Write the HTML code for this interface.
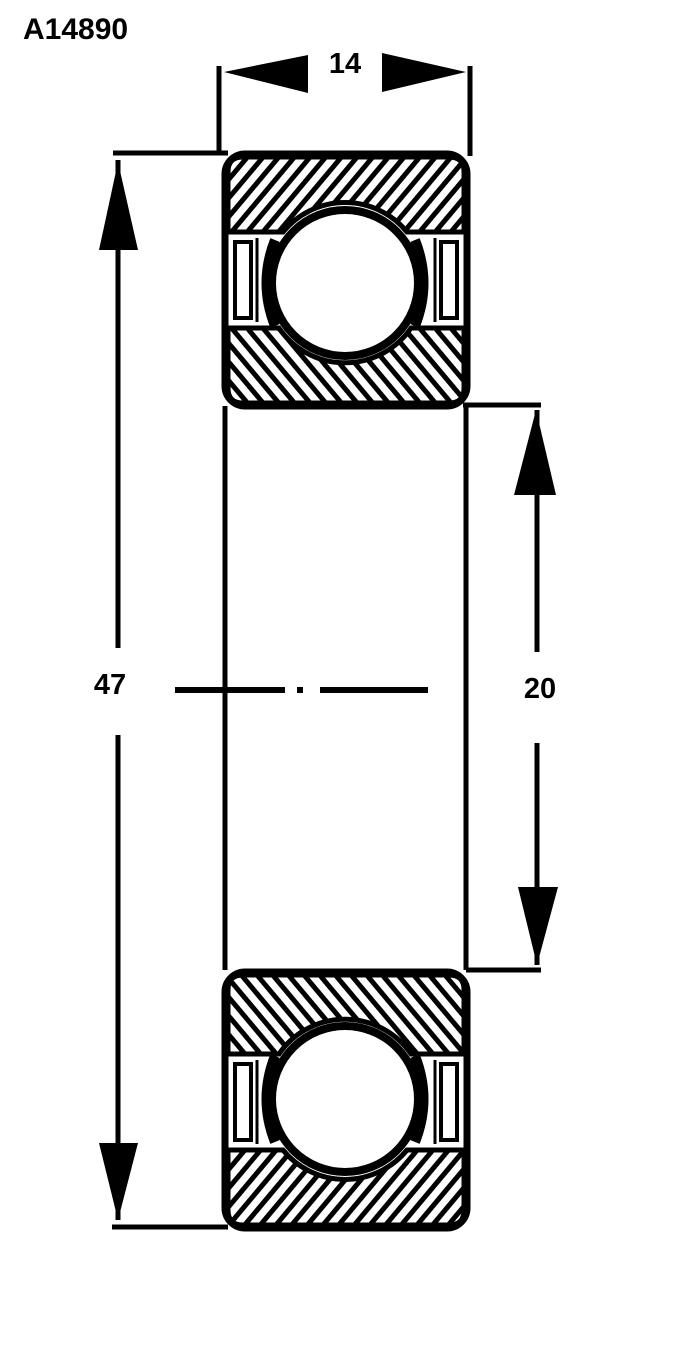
<!DOCTYPE html>
<html><head><meta charset="utf-8"><style>
html,body{margin:0;padding:0;background:#fff;}
svg{display:block;}
text{font-family:"Liberation Sans",Arial,sans-serif;font-weight:bold;fill:#000;}
</style></head><body>
<svg width="700" height="1360" viewBox="0 0 700 1360" xmlns="http://www.w3.org/2000/svg">
<defs>
<pattern id="hA" patternUnits="userSpaceOnUse" width="12" height="12" patternTransform="rotate(40)">
<rect width="12" height="12" fill="#fff"/><rect x="0" y="0" width="5" height="12" fill="#000"/></pattern>
<pattern id="hB" patternUnits="userSpaceOnUse" width="12" height="12" patternTransform="rotate(-40)">
<rect width="12" height="12" fill="#fff"/><rect x="0" y="0" width="5" height="12" fill="#000"/></pattern>
<g id="cage">
  <rect x="235" y="242" width="16" height="76" fill="#fff" stroke="#000" stroke-width="4"/>
  <line x1="257" y1="238" x2="257" y2="322" stroke="#000" stroke-width="3"/>
  <path d="M275 240 Q258 283 275 326" fill="none" stroke="#000" stroke-width="10"/>
  <rect x="441" y="242" width="16" height="76" fill="#fff" stroke="#000" stroke-width="4"/>
  <line x1="435" y1="238" x2="435" y2="322" stroke="#000" stroke-width="3"/>
  <path d="M415 240 Q432 283 415 326" fill="none" stroke="#000" stroke-width="10"/>
  <circle cx="345" cy="283" r="73" fill="#fff" stroke="#000" stroke-width="8"/>
</g>
</defs>

<text x="23" y="39" font-size="30">A14890</text>

<line x1="219" y1="66" x2="219" y2="154" stroke="#000" stroke-width="5"/>
<line x1="470" y1="66" x2="470" y2="156" stroke="#000" stroke-width="5"/>
<polygon points="224,72 308,55 308,93" fill="#000"/>
<polygon points="466,72 382,53 382,92" fill="#000"/>
<text x="345" y="73" font-size="29" text-anchor="middle">14</text>

<g>
  <rect x="225" y="154" width="242" height="252" rx="20" fill="#fff" stroke="#000" stroke-width="6"/>
  <path d="M228 232 L228 172 Q228 157 243 157 L449 157 Q464 157 464 172 L464 232 L407 232 A80 80 0 0 0 283 232 Z" fill="url(#hA)" stroke="#000" stroke-width="5"/>
  <path d="M228 328 L279 328 A80 80 0 0 0 411 328 L464 328 L464 388 Q464 403 449 403 L243 403 Q228 403 228 388 Z" fill="url(#hB)" stroke="#000" stroke-width="5"/>
  <use href="#cage"/>
  <rect x="225" y="154" width="242" height="252" rx="20" fill="none" stroke="#000" stroke-width="7"/>
</g>

<g transform="translate(0,1382) scale(1,-1)">
  <rect x="225" y="154" width="242" height="256" rx="20" fill="#fff" stroke="#000" stroke-width="6"/>
  <path d="M228 232 L228 172 Q228 157 243 157 L449 157 Q464 157 464 172 L464 232 L407 232 A80 80 0 0 0 283 232 Z" fill="url(#hB)" stroke="#000" stroke-width="5"/>
  <path d="M228 328 L279 328 A80 80 0 0 0 411 328 L464 328 L464 392 Q464 407 449 407 L243 407 Q228 407 228 392 Z" fill="url(#hA)" stroke="#000" stroke-width="5"/>
  <use href="#cage"/>
  <rect x="225" y="154" width="242" height="256" rx="20" fill="none" stroke="#000" stroke-width="7"/>
</g>

<line x1="225" y1="406" x2="225" y2="970" stroke="#000" stroke-width="5"/>
<line x1="466" y1="406" x2="466" y2="970" stroke="#000" stroke-width="5"/>

<line x1="175" y1="690" x2="285" y2="690" stroke="#000" stroke-width="6"/>
<rect x="297" y="687" width="6" height="6" fill="#000"/>
<line x1="320" y1="690" x2="428" y2="690" stroke="#000" stroke-width="6"/>

<line x1="113" y1="153" x2="228" y2="153" stroke="#000" stroke-width="5"/>
<line x1="112" y1="1227" x2="228" y2="1227" stroke="#000" stroke-width="5"/>
<line x1="118" y1="160" x2="118" y2="648" stroke="#000" stroke-width="5"/>
<line x1="118" y1="735" x2="118" y2="1220" stroke="#000" stroke-width="5"/>
<polygon points="118,162 99,250 138,250" fill="#000"/>
<polygon points="118,1220 99,1143 138,1143" fill="#000"/>
<text x="110" y="694" font-size="29" text-anchor="middle">47</text>

<line x1="463" y1="405" x2="541" y2="405" stroke="#000" stroke-width="5"/>
<line x1="466" y1="970" x2="541" y2="970" stroke="#000" stroke-width="5"/>
<line x1="537" y1="410" x2="537" y2="652" stroke="#000" stroke-width="5"/>
<line x1="537" y1="743" x2="537" y2="965" stroke="#000" stroke-width="5"/>
<polygon points="536,410 514,495 556,495" fill="#000"/>
<polygon points="537,965 518,887 558,887" fill="#000"/>
<text x="540" y="698" font-size="29" text-anchor="middle">20</text>
</svg>
</body></html>
